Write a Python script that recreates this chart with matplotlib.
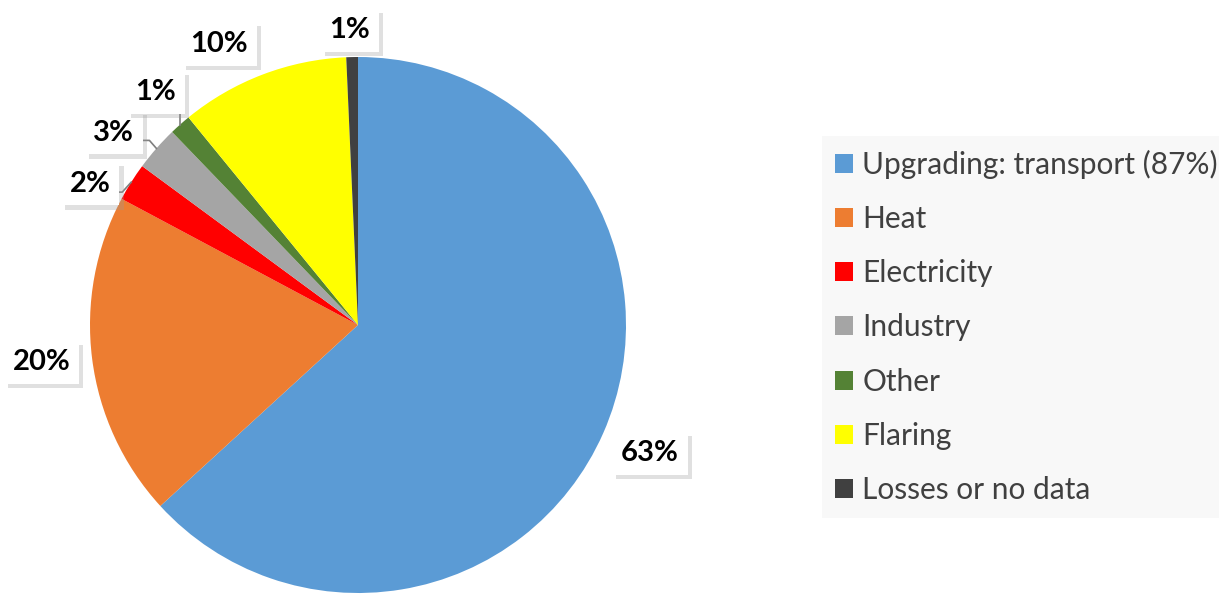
import numpy as np
import matplotlib
matplotlib.use('Agg')
import matplotlib.pyplot as plt
from matplotlib.patches import Patch
import matplotlib.patheffects as pe

# data
categories = ["Upgrading: transport (87%)", "Heat", "Electricity", "Industry",
              "Other", "Flaring", "Losses or no data"]
shares = [63.2, 19.6, 2.3, 2.7, 1.3, 10.2, 0.7]
colors = ["#5b9bd5", "#ed7d31", "#ff0000", "#a5a5a5", "#548235", "#ffff00", "#404040"]

plt.rcParams['font.family'] = ['Lato', 'DejaVu Sans']

W, H = 1219, 594
fig = plt.figure(figsize=(W / 100, H / 100), dpi=100)
ax = fig.add_axes([0, 0, 1, 1])

cx, cy, R = 358, H - 325, 268
wedges, _ = ax.pie(shares, colors=colors, startangle=90, counterclock=False,
                   center=(cx, cy), radius=R, frame=True,
                   wedgeprops=dict(linewidth=0))
ax.set_xlim(0, W)
ax.set_ylim(0, H)
ax.set_aspect('equal')
ax.axis('off')

# label placement: (angle shift in degrees counter-clockwise, distance in radii)
label_pos = [(0, 1.19), (-0.5, 1.19), (4.4, 1.13), (3.0, 1.16),
             (-0.6, 1.15), (5.4, 1.17), (0.3, 1.10)]
# leader lines (relative offsets from wedge edge, pixels), None = no line
leaders = [None, None,
           [(0, 0), (-9, -10), (-18, -10)],
           [(0, 0), (-7, 8), (-17, 8)],
           [(0, 0), (0, 22)],
           None, None]

for w, val, (shift, dist), lead in zip(wedges, shares, label_pos, leaders):
    mid0 = np.deg2rad((w.theta1 + w.theta2) / 2)
    mid = mid0 + np.deg2rad(shift)
    lx = cx + dist * R * np.cos(mid)
    ly = cy + dist * R * np.sin(mid)
    t = ax.text(lx, ly, f"{val:.0f}%", ha='center', va='center',
                fontsize=21, fontweight='bold', color='black', zorder=5,
                bbox=dict(boxstyle='square,pad=0.3', fc='white', ec='none'))
    t.get_bbox_patch().set_path_effects([
        pe.SimplePatchShadow(offset=(3, -3), shadow_rgbFace='#999999', alpha=0.3),
        pe.Normal()])
    if lead is not None:
        ex = cx + R * np.cos(mid0)
        ey = cy + R * np.sin(mid0)
        xs = [ex + p[0] for p in lead]
        ys = [ey + p[1] for p in lead]
        ax.plot(xs, ys, color='#7f7f7f', linewidth=1.2, zorder=1)

handles = [Patch(facecolor=c, edgecolor='none') for c in colors]
leg = fig.legend(handles, categories, loc='upper left',
                 bbox_to_anchor=(822 / W, 1 - 136 / H), borderaxespad=0,
                 frameon=True, fancybox=False, facecolor='#f8f8f8',
                 edgecolor='none', framealpha=1, fontsize=21.5,
                 handlelength=0.6, handleheight=0.6, handletextpad=0.3,
                 labelspacing=0.88, borderpad=0.45, labelcolor='#404040')

fig.savefig("out.png", dpi=100)
